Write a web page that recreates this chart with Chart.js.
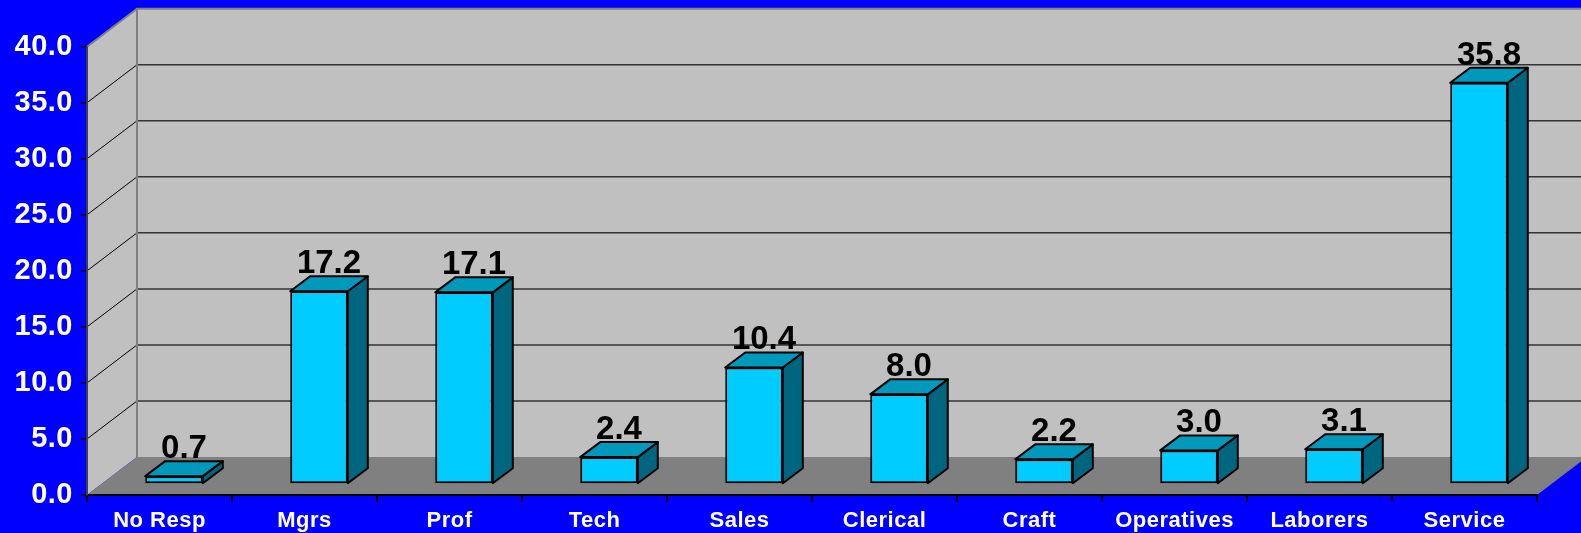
<!DOCTYPE html>
<html><head><meta charset="utf-8">
<script src="https://cdn.jsdelivr.net/npm/chart.js@4/dist/chart.umd.min.js"></script>
<style>html,body{margin:0;padding:0;background:#0000FF;overflow:hidden}canvas{display:block}</style>
</head><body>
<canvas id="c" width="1581" height="533"></canvas>
<script>
const categories = ['No Resp','Mgrs','Prof','Tech','Sales','Clerical','Craft','Operatives','Laborers','Service'];
const values = [0.7, 17.2, 17.1, 2.4, 10.4, 8.0, 2.2, 3.0, 3.1, 35.8];
const yTicks = [0, 5, 10, 15, 20, 25, 30, 35, 40];

const DEPTH_X = 50, DEPTH_Y = -38;   // wall depth
const BAR_OX = 14.5, BAR_OY = -11;   // bar front plane offset
const BAR_DX = 20, BAR_DY = -15;     // bar depth

const threeD = {
  id: 'threeD',
  beforeDraw(chart) {
    const ctx = chart.ctx, W = chart.width, H = chart.height;
    const ys = chart.scales.y, a = chart.chartArea;
    const xl = a.left, xr = a.right;
    const yb = ys.getPixelForValue(0), yt = ys.getPixelForValue(40);
    ctx.save();
    ctx.fillStyle = '#0000FF';
    ctx.fillRect(0, 0, W, H);
    // back wall
    ctx.fillStyle = '#C0C0C0';
    ctx.fillRect(xl + DEPTH_X, yt + DEPTH_Y, xr - xl + 60, yb - yt);
    // left wall
    ctx.beginPath();
    ctx.moveTo(xl, yt); ctx.lineTo(xl + DEPTH_X, yt + DEPTH_Y);
    ctx.lineTo(xl + DEPTH_X, yb + DEPTH_Y); ctx.lineTo(xl, yb); ctx.closePath();
    ctx.fill();
    // floor
    ctx.fillStyle = '#808080';
    ctx.beginPath();
    ctx.moveTo(xl, yb); ctx.lineTo(xl + DEPTH_X, yb + DEPTH_Y);
    ctx.lineTo(xr + DEPTH_X, yb + DEPTH_Y); ctx.lineTo(xr, yb); ctx.closePath();
    ctx.fill();
    // gridlines
    yTicks.forEach(v => {
      if (v <= 0 || v >= 40) return;
      const y = ys.getPixelForValue(v);
      ctx.strokeStyle = '#333333'; ctx.lineWidth = 1.5;
      ctx.beginPath();
      ctx.moveTo(xl + DEPTH_X, y + DEPTH_Y); ctx.lineTo(xr + DEPTH_X + 10, y + DEPTH_Y);
      ctx.stroke();
      ctx.strokeStyle = '#000000'; ctx.lineWidth = 1;
      ctx.beginPath();
      ctx.moveTo(xl, y); ctx.lineTo(xl + DEPTH_X, y + DEPTH_Y);
      ctx.stroke();
    });
    // wall edges
    ctx.strokeStyle = '#808080'; ctx.lineWidth = 2;
    ctx.beginPath();
    ctx.moveTo(xl, yt); ctx.lineTo(xl + DEPTH_X, yt + DEPTH_Y); ctx.lineTo(W + 20, yt + DEPTH_Y);
    ctx.moveTo(xl + DEPTH_X, yt + DEPTH_Y); ctx.lineTo(xl + DEPTH_X, yb + DEPTH_Y);
    ctx.stroke();
    ctx.restore();
    ctx.letterSpacing = '0.5px';
  },
  beforeDatasetsDraw(chart) {
    chart.ctx.save();
    chart.ctx.translate(BAR_OX, BAR_OY);
  },
  afterDatasetsDraw(chart) {
    const ctx = chart.ctx;
    const meta = chart.getDatasetMeta(0);
    ctx.lineJoin = 'round';
    ctx.lineWidth = 2;
    ctx.strokeStyle = '#000000';
    meta.data.forEach(bar => {
      const p = bar.getProps(['x', 'y', 'base', 'width'], true);
      const l = p.x - p.width / 2, r = p.x + p.width / 2, t = p.y, b = p.base;
      // side
      ctx.fillStyle = '#006680';
      ctx.beginPath();
      ctx.moveTo(r, t); ctx.lineTo(r + BAR_DX, t + BAR_DY);
      ctx.lineTo(r + BAR_DX, b + BAR_DY); ctx.lineTo(r, b); ctx.closePath();
      ctx.fill(); ctx.stroke();
      // top
      ctx.fillStyle = '#0099BB';
      ctx.beginPath();
      ctx.moveTo(l, t); ctx.lineTo(l + BAR_DX, t + BAR_DY);
      ctx.lineTo(r + BAR_DX, t + BAR_DY); ctx.lineTo(r, t); ctx.closePath();
      ctx.fill(); ctx.stroke();
    });
    // value labels
    ctx.letterSpacing = '0px';
    ctx.fillStyle = '#000000';
    ctx.font = 'bold 33px "Liberation Sans", Arial, sans-serif';
    ctx.textAlign = 'center';
    ctx.textBaseline = 'alphabetic';
    meta.data.forEach((bar, i) => {
      const p = bar.getProps(['x', 'y'], true);
      ctx.fillText(values[i].toFixed(1), p.x + BAR_DX / 2, p.y + BAR_DY - 3);
    });
    ctx.restore();
  }
};

new Chart(document.getElementById('c'), {
  type: 'bar',
  data: {
    labels: categories,
    datasets: [{
      data: values,
      backgroundColor: '#00CCFF',
      borderColor: '#000000',
      borderWidth: 2,
      borderSkipped: false,
      categoryPercentage: 1,
      barPercentage: 0.397,
      clip: false
    }]
  },
  options: {
    responsive: false,
    animation: false,
    layout: { padding: { left: 0, top: 46.7, right: 44, bottom: 0 } },
    plugins: { legend: { display: false }, tooltip: { enabled: false } },
    scales: {
      x: {
        afterFit: s => { s.height = 38; },
        grid: { display: true, drawOnChartArea: false, drawTicks: true, tickLength: 7, color: '#000000', lineWidth: 2, offset: true },
        border: { display: true, color: '#000000', width: 2 },
        ticks: { color: '#FFFFFF', font: { family: '"Liberation Sans", Arial, sans-serif', weight: 'bold', size: 22 }, padding: 6, maxRotation: 0, autoSkip: false }
      },
      y: {
        min: 0, max: 40,
        afterFit: s => { s.width = 87; },
        afterBuildTicks: s => { s.ticks = yTicks.map(v => ({ value: v })); },
        grid: { display: true, drawOnChartArea: false, drawTicks: true, tickLength: 6, color: '#000000', lineWidth: 1.5 },
        border: { display: true, color: '#404040', width: 2 },
        ticks: { color: '#FFFFFF', font: { family: '"Liberation Sans", Arial, sans-serif', weight: 'bold', size: 29 }, padding: 8, callback: v => Number(v).toFixed(1) }
      }
    }
  },
  plugins: [threeD]
});
</script>
</body></html>
